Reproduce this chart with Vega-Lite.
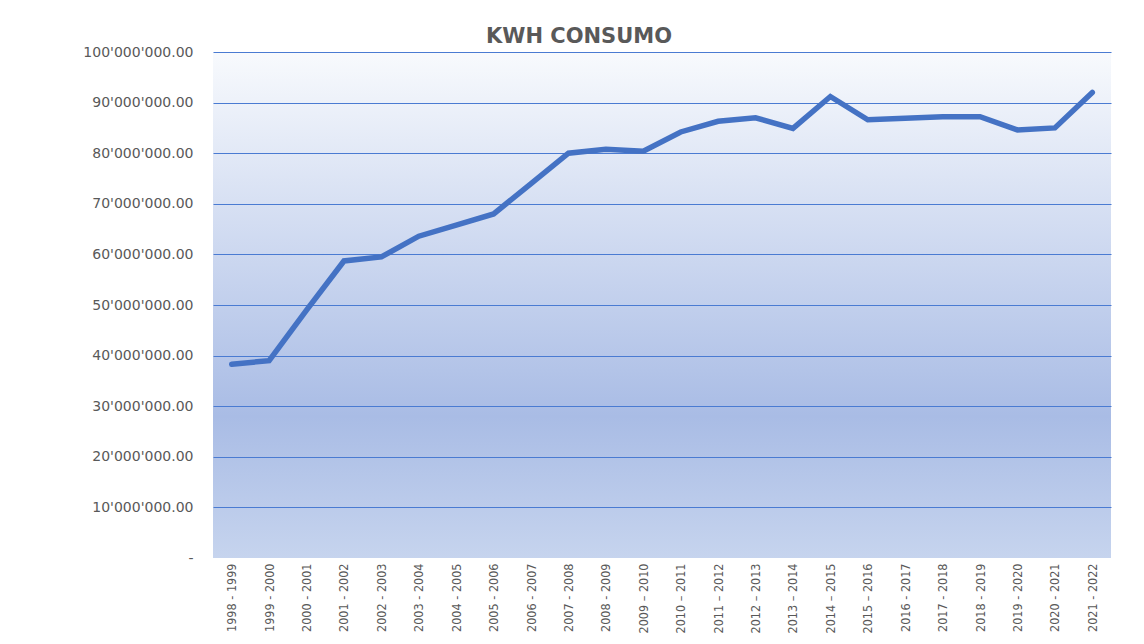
{
  "$schema": "https://vega.github.io/schema/vega-lite/v6.json",
  "autosize": "none",
  "width": 898,
  "height": 506,
  "padding": {"left": 213, "top": 52, "right": 33, "bottom": 86},
  "background": "white",
  "title": {
    "text": "KWH CONSUMO",
    "font": "DejaVu Sans",
    "fontSize": 21,
    "fontWeight": "bold",
    "color": "#595959",
    "anchor": "middle",
    "dx": -83,
    "offset": -2
  },
  "config": {
    "view": {"stroke": null},
    "axis": {"domain": false, "ticks": false}
  },
  "view": {
    "stroke": null,
    "fill": {
      "gradient": "linear",
      "x1": 0, "y1": 0, "x2": 0, "y2": 1,
      "stops": [
        {"offset": 0, "color": "#f8fafd"},
        {"offset": 0.72, "color": "#a9bce5"},
        {"offset": 1, "color": "#c6d4ee"}
      ]
    }
  },
  "data": {
    "values": [
      {"periodo": "1998 - 1999", "kwh": 38300000},
      {"periodo": "1999 - 2000", "kwh": 39000000},
      {"periodo": "2000 - 2001", "kwh": 49000000},
      {"periodo": "2001 - 2002", "kwh": 58700000},
      {"periodo": "2002 - 2003", "kwh": 59500000},
      {"periodo": "2003 - 2004", "kwh": 63600000},
      {"periodo": "2004 - 2005", "kwh": 65800000},
      {"periodo": "2005 - 2006", "kwh": 68000000},
      {"periodo": "2006 - 2007", "kwh": 74000000},
      {"periodo": "2007 - 2008", "kwh": 80000000},
      {"periodo": "2008 - 2009", "kwh": 80800000},
      {"periodo": "2009 – 2010", "kwh": 80400000},
      {"periodo": "2010 – 2011", "kwh": 84200000},
      {"periodo": "2011 – 2012", "kwh": 86300000},
      {"periodo": "2012 – 2013", "kwh": 87000000},
      {"periodo": "2013 – 2014", "kwh": 84900000},
      {"periodo": "2014 – 2015", "kwh": 91200000},
      {"periodo": "2015 – 2016", "kwh": 86600000},
      {"periodo": "2016 - 2017", "kwh": 86900000},
      {"periodo": "2017 - 2018", "kwh": 87200000},
      {"periodo": "2018 - 2019", "kwh": 87200000},
      {"periodo": "2019 - 2020", "kwh": 84600000},
      {"periodo": "2020 - 2021", "kwh": 85000000},
      {"periodo": "2021 - 2022", "kwh": 92000000}
    ]
  },
  "mark": {"type": "line", "color": "#4472c4", "strokeWidth": 5.5, "strokeJoin": "miter", "strokeCap": "round"},
  "encoding": {
    "x": {
      "field": "periodo",
      "type": "ordinal",
      "sort": null,
      "scale": {"paddingInner": 0, "paddingOuter": 0.5},
      "axis": {
        "title": null,
        "labelAngle": -90,
        "labelFont": "DejaVu Sans Condensed, Liberation Sans",
        "labelFontSize": 12.5,
        "labelColor": "#595959",
        "labelPadding": 5,
        "labelOverlap": false,
        "grid": false
      }
    },
    "y": {
      "field": "kwh",
      "type": "quantitative",
      "scale": {"domain": [0, 100000000], "nice": false},
      "axis": {
        "title": null,
        "values": [0, 10000000, 20000000, 30000000, 40000000, 50000000, 60000000, 70000000, 80000000, 90000000, 100000000],
        "labelExpr": "datum.value == 0 ? '-' : replace(format(datum.value, ',.2f'), regexp(',', 'g'), \"'\")",
        "labelFont": "DejaVu Sans",
        "labelFontSize": 14,
        "labelColor": "#595959",
        "labelPadding": 20,
        "labelOverlap": false,
        "grid": true,
        "gridColor": "#4a7bd2",
        "gridWidth": 1.1,
        "gridOpacity": {"expr": "datum.value == 0 ? 0 : 1"}
      }
    }
  }
}
